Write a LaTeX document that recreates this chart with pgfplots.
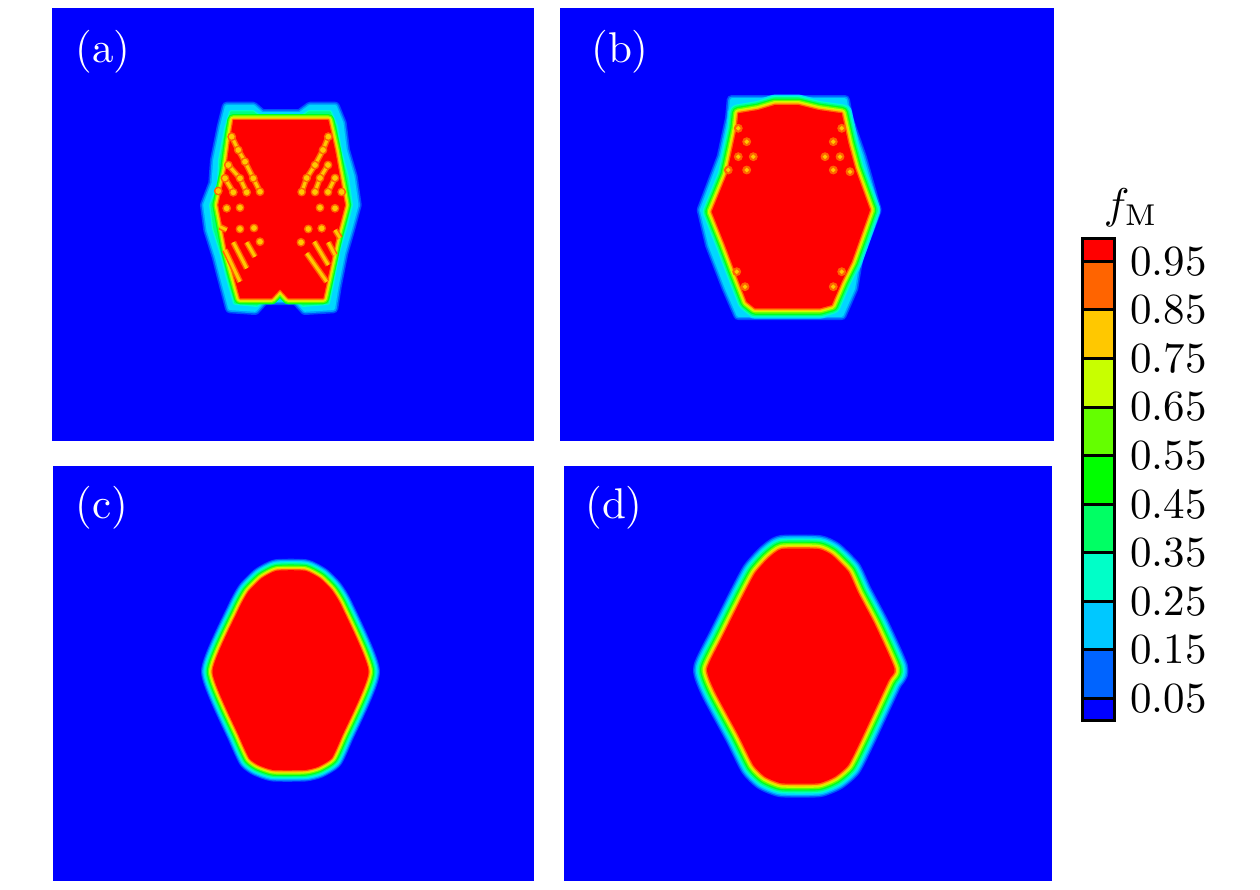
\documentclass[border=0pt]{standalone}
\usepackage{fontspec}
\usepackage{pgfplots}
\usepackage{pgfplotstable}
\pgfplotsset{compat=1.18}
\definecolor{La}{HTML}{0050FF}
\definecolor{Lb}{HTML}{00A0FF}
\definecolor{Lc}{HTML}{00D8FF}
\definecolor{Ld}{HTML}{00FFC8}
\definecolor{Le}{HTML}{00FF80}
\definecolor{Lf}{HTML}{00FF20}
\definecolor{Lg}{HTML}{64FF00}
\definecolor{Lh}{HTML}{C8FF00}
\definecolor{Li}{HTML}{FFC800}
\definecolor{Lj}{HTML}{FF6400}
\definecolor{cbA}{HTML}{0000FF}
\definecolor{cbB}{HTML}{0064FF}
\definecolor{cbC}{HTML}{00C8FF}
\definecolor{cbD}{HTML}{00FFC8}
\definecolor{cbE}{HTML}{00FF64}
\definecolor{cbF}{HTML}{00FF00}
\definecolor{cbG}{HTML}{64FF00}
\definecolor{cbH}{HTML}{C8FF00}
\definecolor{cbI}{HTML}{FFC800}
\definecolor{cbJ}{HTML}{FF6400}
\definecolor{cbK}{HTML}{FF0000}
\newcommand\lay[3]{\addplot[draw=#1,fill=#1,line width=#2pt,line join=round,mark=none,forget plot] table[x=x,y=y] {#3} --cycle;}
\newcommand\slay[3]{\addplot[draw=#1,fill=#1,line width=#2pt,line join=round,mark=none,forget plot,smooth cycle,tension=0.3] table[x=x,y=y] {#3};}
\newcommand\corelayers[2]{%
\lay{Lf}{0.50*#2}{#1}\lay{Lg}{0.40*#2}{#1}\lay{Lh}{0.30*#2}{#1}\lay{Li}{0.20*#2}{#1}\lay{Lj}{0.10*#2}{#1}%
\addplot[draw=none,fill=red,mark=none,forget plot] table[x=x,y=y] {#1} --cycle;}
\newcommand\innerlayers[2]{%
\lay{Lc}{0.80*#2}{#1}\lay{Ld}{0.70*#2}{#1}\lay{Le}{0.60*#2}{#1}\corelayers{#1}{#2}}
\newcommand\slayers[2]{\slay{La}{#2}{#1}\slay{Lb}{0.90*#2}{#1}%
\slay{Lc}{0.80*#2}{#1}\slay{Ld}{0.70*#2}{#1}\slay{Le}{0.60*#2}{#1}%
\slay{Lf}{0.50*#2}{#1}\slay{Lg}{0.40*#2}{#1}\slay{Lh}{0.30*#2}{#1}\slay{Li}{0.20*#2}{#1}\slay{Lj}{0.10*#2}{#1}%
\addplot[draw=none,fill=red,mark=none,forget plot,smooth cycle,tension=0.3] table[x=x,y=y] {#1};}
\newcommand\outerblob[1]{\lay{La}{5}{#1}\lay{Lb}{3.4}{#1}\lay{Lc}{1.8}{#1}}
\pgfplotsset{panel/.style={scale only axis,ticks=none,axis line style={draw=none},
  axis background/.style={fill=blue},y dir=reverse,unbounded coords=jump}}
\newcommand\plabel[3]{\node[white,scale=2.15] at (axis cs:#1,#2) {(#3)};}
\pgfplotstableread{
x y
226.7 106.7
253.3 106.7
261.7 114
300 114
310 106.7
335 106.7
341.7 123.3
345 150
352.7 176.7
356.7 205
350 230
343.3 253.3
336.7 286.7
333.3 308.3
305 310
296 300
264 300
255 310
230 308.3
221.7 276.7
216.7 256.7
208.3 230
205 205
213.3 183.3
215 160
221.7 126.7
}\outerA
\pgfplotstableread{
x y
231 112
253 112
262 118
300 118
309 112
330 112
336 126
340 150
347 177
351 205
345 229
338 252
332 285
328 303
303 305
294 296
266 296
257 305
235 303
227 275
222 255
214 229
211 205
219 183
220 160
226 128
}\midA
\pgfplotstableread{
x y
233.3 120
328.3 120
335 150
345 205
336.7 236.7
323.3 298.3
288.3 298.3
280 289.3
271.7 298.3
240 298.3
226.7 250
218.3 205
226 170
230 140
}\bodyA
\pgfplotstableread{
x y
231.7 136.7
238.3 150
245 161.7
253.3 178.3
260 191.7
nan nan
228.3 165
240 178.3
246.7 192.3
nan nan
225 178.3
233.3 192.3
nan nan
328.3 136.7
323 150
315 165
306.7 178
301.7 192
nan nan
328 165
320 178
315 192
nan nan
335 178
328 192
nan nan
233.3 242.3
246.7 268.3
nan nan
246.7 242.3
255 256.7
nan nan
225 250
240 281.7
nan nan
220 226.7
226.7 230
nan nan
314.3 241.7
328.3 265
nan nan
328.3 242.3
335 255
nan nan
306.7 253.3
326.7 281.7
nan nan
335 230
340 238
}\streakA
\pgfplotstableread{
x y
231.7 136.7
238.3 150
245 161.7
253.3 178.3
260 191.7
228.3 165
240 178.3
246.7 192.3
225 178.3
233.3 192.3
218.3 191
328.3 136.7
323 150
315 165
328 165
306.7 178
320 178
335 178
301.7 192
315 192
328 192
341.7 192
226.7 208.3
240 207.7
240 229
254 228
260 241.7
335 208.3
320 207.7
321.7 228.3
308.3 229
301 242.3
}\dotsA
\pgfplotstableread{
x y
731.7 100
845 100
848.3 118.3
861.7 156.7
876.7 210
858.3 258.3
853.3 288.3
841.7 315
738.3 315
726.7 288.3
710 245
701.7 210
721.7 156.7
730 118.3
}\outerB
\pgfplotstableread{
x y
738.3 113.3
758.3 110
775 105
798.3 105
818.3 110
841.7 113.3
848.3 143.3
855 168.3
870 210
851.7 261.7
841.7 281.7
831.7 305
820 308.3
755 308.3
746.7 301.7
735 271.7
725 245
711.7 211.7
726.7 175
731.7 151.7
736.7 128.3
}\bodyB
\pgfplotstableread{
x y
746.7 141.7
753.3 156.7
738.3 156.7
746.7 170
738.3 128.3
728.3 170
833.3 141.7
825 156.7
840 156.7
833.3 170
841.7 128.3
850 171.7
736.7 271.7
745 286.7
841.7 271.7
833.3 286.7
}\dotsB
\pgfplotstableread{
x y
276.7 570.7
305 570.7
320 578.3
331.7 590
341.7 606.7
368.5 671.7
341.7 736.7
331.7 758.3
318.3 766.7
305 770
273.3 770
258.3 765
249.3 758.3
239.3 736.7
212.5 671.7
238.3 610
248.3 591.7
261.7 578.3
}\bodyC
\pgfplotstableread{
x y
781.7 549
818.3 549
831.7 555
848.3 571.7
858.3 593.3
875 625
894.5 669
888.3 681
861.7 738.3
848.3 765
835 776.7
818.3 783.3
781.7 783.3
765 776.7
753.3 765
738.3 735
715 691.7
707 669
721.7 638.3
741.7 598.3
755 573.3
768.3 558.3
}\bodyD
\begin{document}
\begin{tikzpicture}
\path[use as bounding box] (0pt,0pt) rectangle (630pt,445pt);
% (a)
\begin{axis}[panel,at={(26pt,224.5pt)},anchor=south west,width=241pt,height=216.5pt,xmin=52,xmax=534,ymin=8,ymax=441]
\outerblob{\outerA}
\lay{Ld}{2}{\midA}
\lay{Le}{0.6}{\midA}
\corelayers{\bodyA}{12}
\addplot[draw=Lj,line width=3pt,mark=none,forget plot] table[x=x,y=y] {\streakA};
\addplot[draw=Li,line width=1.5pt,mark=none,forget plot] table[x=x,y=y] {\streakA};
\addplot[only marks,mark=*,mark size=2pt,color=Lj,forget plot] table[x=x,y=y] {\dotsA};
\addplot[only marks,mark=*,mark size=1.2pt,color=Li,forget plot] table[x=x,y=y] {\dotsA};
\plabel{103}{52}{a}
\end{axis}
% (b)
\begin{axis}[panel,at={(280pt,224.5pt)},anchor=south west,width=247pt,height=216.5pt,xmin=560,xmax=1054,ymin=8,ymax=441]
\outerblob{\outerB}
\innerlayers{\bodyB}{13}
\addplot[only marks,mark=*,mark size=2pt,color=Lj,forget plot] table[x=x,y=y] {\dotsB};
\addplot[only marks,mark=*,mark size=0.9pt,color=Li,forget plot] table[x=x,y=y] {\dotsB};
\plabel{620}{52}{b}
\end{axis}
% (c)
\begin{axis}[panel,at={(26.5pt,4.5pt)},anchor=south west,width=240.5pt,height=207.5pt,xmin=53,xmax=534,ymin=466,ymax=881]
\slayers{\bodyC}{11.5}
\plabel{102}{508}{c}
\end{axis}
% (d)
\begin{axis}[panel,at={(282pt,4.5pt)},anchor=south west,width=244pt,height=207.5pt,xmin=564,xmax=1052,ymin=466,ymax=881]
\slayers{\bodyD}{14}
\plabel{614}{508}{d}
\end{axis}
% colour bar
\begin{axis}[scale only axis,at={(541pt,85pt)},anchor=south west,width=16.25pt,height=240.75pt,
  xmin=0,xmax=1,ymin=0.0057,ymax=0.997,xtick=\empty,axis on top,
  ytick={0.05,0.15,0.25,0.35,0.45,0.55,0.65,0.75,0.85,0.95},
  yticklabels={0.05,0.15,0.25,0.35,0.45,0.55,0.65,0.75,0.85,0.95},
  yticklabel pos=right,ymajorgrids,
  major grid style={black,line width=1.5pt},
  major tick length=0pt,
  axis line style={black,line width=1.5pt},
  y tick label style={scale=2.15,xshift=0.1pt,anchor=west}]
\addplot[fill=cbA,draw=none,forget plot] coordinates {(0,0.0057)(1,0.0057)(1,0.05)(0,0.05)} --cycle;
\addplot[fill=cbB,draw=none,forget plot] coordinates {(0,0.05)(1,0.05)(1,0.15)(0,0.15)} --cycle;
\addplot[fill=cbC,draw=none,forget plot] coordinates {(0,0.15)(1,0.15)(1,0.25)(0,0.25)} --cycle;
\addplot[fill=cbD,draw=none,forget plot] coordinates {(0,0.25)(1,0.25)(1,0.35)(0,0.35)} --cycle;
\addplot[fill=cbE,draw=none,forget plot] coordinates {(0,0.35)(1,0.35)(1,0.45)(0,0.45)} --cycle;
\addplot[fill=cbF,draw=none,forget plot] coordinates {(0,0.45)(1,0.45)(1,0.55)(0,0.55)} --cycle;
\addplot[fill=cbG,draw=none,forget plot] coordinates {(0,0.55)(1,0.55)(1,0.65)(0,0.65)} --cycle;
\addplot[fill=cbH,draw=none,forget plot] coordinates {(0,0.65)(1,0.65)(1,0.75)(0,0.75)} --cycle;
\addplot[fill=cbI,draw=none,forget plot] coordinates {(0,0.75)(1,0.75)(1,0.85)(0,0.85)} --cycle;
\addplot[fill=cbJ,draw=none,forget plot] coordinates {(0,0.85)(1,0.85)(1,0.95)(0,0.95)} --cycle;
\addplot[fill=cbK,draw=none,forget plot] coordinates {(0,0.95)(1,0.95)(1,0.997)(0,0.997)} --cycle;
\end{axis}
\node[scale=2.15] at (565.5pt,341pt) {$f_{\mathrm{M}}$};
\end{tikzpicture}
\end{document}
